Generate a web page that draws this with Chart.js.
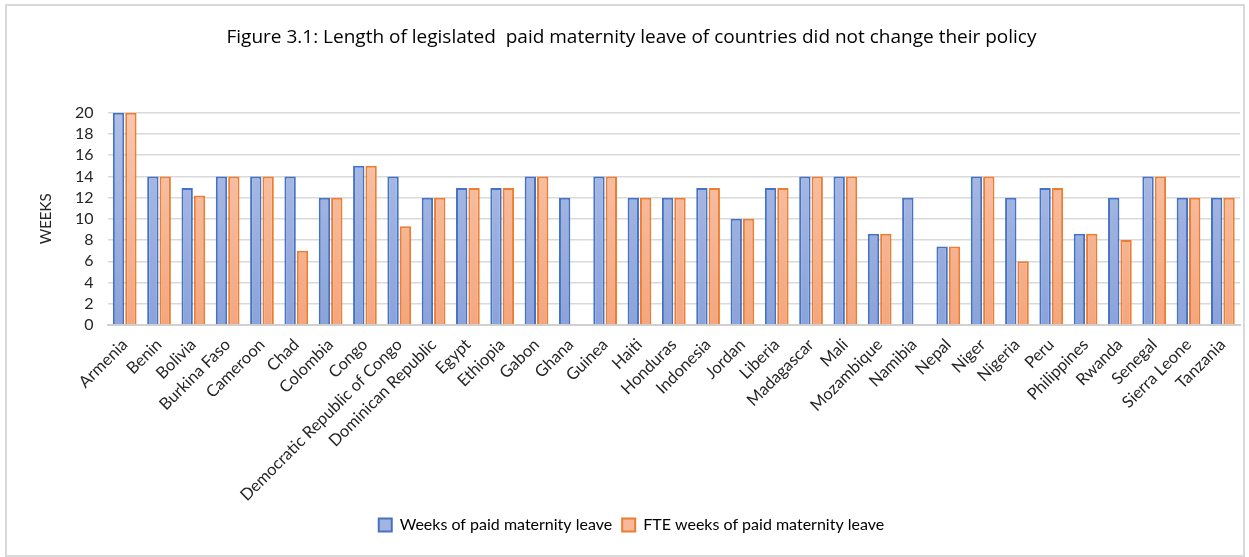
<!DOCTYPE html>
<html lang="en">
<head>
  <meta charset="UTF-8" />
  <title>Figure 3.1 - Paid maternity leave</title>
  <script src="https://cdn.jsdelivr.net/npm/chart.js"></script>
  <style>
    html, body {
      margin: 0;
      padding: 0;
      background: #ffffff;
    }
    .wrap {
      position: absolute;
      left: 5px;
      top: 4px;
      width: 1236px;
      height: 549px;
      border: 2px solid #d9d9d9;
    }
  </style>
</head>
<body>
  <div class="wrap">
    <canvas id="leaveChart"></canvas>
  </div>

  <script>
    const countries = [
      'Armenia', 'Benin', 'Bolivia', 'Burkina Faso', 'Cameroon', 'Chad', 'Colombia', 'Congo',
      'Democratic Republic of Congo', 'Dominican Republic', 'Egypt', 'Ethiopia', 'Gabon', 'Ghana',
      'Guinea', 'Haiti', 'Honduras', 'Indonesia', 'Jordan', 'Liberia', 'Madagascar', 'Mali',
      'Mozambique', 'Namibia', 'Nepal', 'Niger', 'Nigeria', 'Peru', 'Philippines', 'Rwanda',
      'Senegal', 'Sierra Leone', 'Tanzania'
    ];

    const paidWeeks = [20, 14, 12.9, 14, 14, 14, 12, 15, 14, 12, 12.9, 12.9, 14, 12,
      14, 12, 12, 12.9, 10, 12.9, 14, 14, 8.6, 12, 7.4, 14, 12, 12.9, 8.6, 12, 14, 12, 12];

    const fteWeeks = [20, 14, 12.2, 14, 14, 7, 12, 15, 9.3, 12, 12.9, 12.9, 14, null,
      14, 12, 12, 12.9, 10, 12.9, 14, 14, 8.6, null, 7.4, 14, 6, 12.9, 8.6, 8, 14, 12, 12];

    const yTicks = [0, 2, 4, 6, 8, 10, 12, 14, 16, 18, 20];

    const font = "Lato, 'Open Sans', sans-serif";

    function gradient(top, bottom, fallback) {
      return function (ctx) {
        const area = ctx.chart.chartArea;
        if (!area) return fallback;
        const g = ctx.chart.ctx.createLinearGradient(0, area.top, 0, area.bottom);
        g.addColorStop(0, top);
        g.addColorStop(1, bottom);
        return g;
      };
    }

    new Chart(document.getElementById('leaveChart'), {
      type: 'bar',
      data: {
        labels: countries,
        datasets: [
          {
            label: 'Weeks of paid maternity leave',
            data: paidWeeks,
            backgroundColor: gradient('#b1bfe6', '#8aa3da', '#9fb2e0'),
            borderColor: '#4472c4',
            borderWidth: 2,
            categoryPercentage: 0.72,
            barPercentage: 0.92
          },
          {
            label: 'FTE weeks of paid maternity leave',
            data: fteWeeks,
            backgroundColor: gradient('#f9c7ae', '#f4a67e', '#f6b894'),
            borderColor: '#ed7d31',
            borderWidth: 2,
            categoryPercentage: 0.72,
            barPercentage: 0.92
          }
        ]
      },
      options: {
        responsive: true,
        maintainAspectRatio: false,
        animation: false,
        layout: { padding: { left: 16, right: 3, top: 20, bottom: 12 } },
        plugins: {
          title: {
            display: true,
            text: 'Figure 3.1: Length of legislated  paid maternity leave of countries did not change their policy',
            color: '#000000',
            font: { family: "'Open Sans', sans-serif", size: 19, weight: 'normal' },
            padding: { top: 0, bottom: 64 }
          },
          legend: {
            position: 'bottom',
            labels: {
              color: '#262626',
              font: { family: font, size: 16 },
              boxWidth: 13,
              boxHeight: 13,
              padding: 10,
              generateLabels: function (chart) {
                return chart.data.datasets.map((ds, i) => ({
                  text: ds.label,
                  fillStyle: i === 0 ? '#a3b4e1' : '#f7b99a',
                  strokeStyle: ds.borderColor,
                  lineWidth: 2,
                  datasetIndex: i
                }));
              }
            }
          },
          tooltip: { enabled: false }
        },
        scales: {
          x: {
            grid: { display: false },
            border: { color: '#d0d0d0', width: 2 },
            ticks: {
              color: '#262626',
              font: { family: font, size: 16.5 },
              minRotation: 45,
              maxRotation: 45,
              autoSkip: false,
              padding: 2
            }
          },
          y: {
            min: 0,
            max: 20,
            afterBuildTicks: axis => { axis.ticks = yTicks.map(v => ({ value: v })); },
            grid: { color: '#d9d9d9', lineWidth: 1.5, drawTicks: false },
            border: { display: false },
            ticks: {
              color: '#262626',
              font: { family: font, size: 16 },
              padding: 14,
              autoSkip: false
            },
            title: {
              display: true,
              text: 'WEEKS',
              color: '#262626',
              font: { family: font, size: 15 },
              padding: { top: 14, bottom: 6 }
            }
          }
        }
      }
    });
  </script>
</body>
</html>
